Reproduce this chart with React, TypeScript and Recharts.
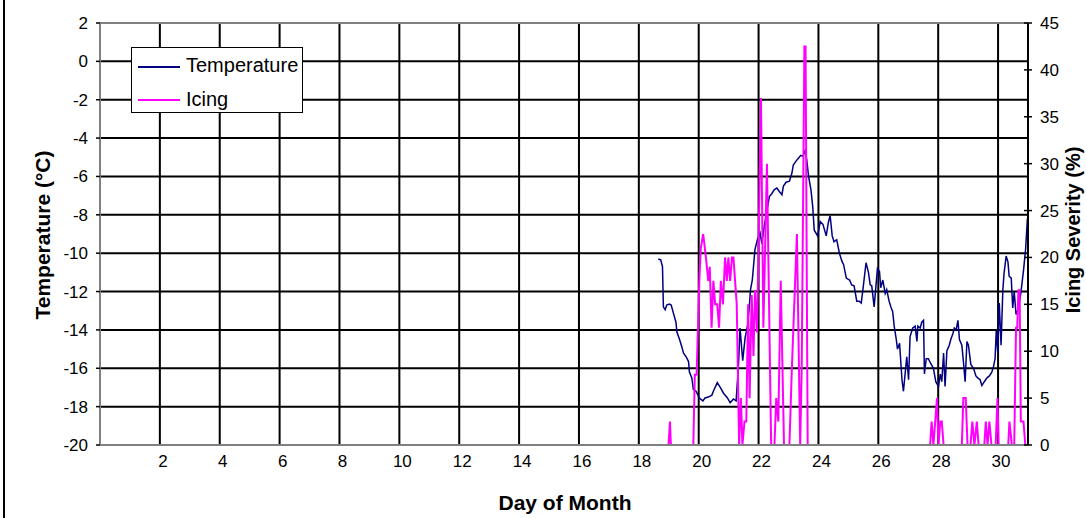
import { LineChart, Line, XAxis, YAxis, CartesianGrid, Legend, ReferenceLine, Label } from 'recharts';

const FONT = '"Liberation Sans", Arial, sans-serif';

// day of month, temperature (°C)
const tempDays = [
  18.65, 18.73, 18.79, 18.82, 18.88, 18.93, 19.02, 19.08, 19.15, 19.24, 19.27, 19.36, 19.44, 19.49, 19.58, 19.66,
  19.69, 19.77, 19.82, 19.91, 20.02, 20.14, 20.21, 20.32, 20.44, 20.49, 20.62, 20.72, 20.83, 20.96, 21.05, 21.16,
  21.25, 21.33, 21.38, 21.47, 21.55, 21.63, 21.69, 21.73, 21.79, 21.88, 21.96, 22.05, 22.11, 22.19, 22.28, 22.36,
  22.44, 22.52, 22.61, 22.70, 22.78, 22.83, 22.92, 23.03, 23.11, 23.16, 23.25, 23.33, 23.41, 23.48, 23.56, 23.61,
  23.67, 23.75, 23.81, 23.86, 23.97, 24.06, 24.15, 24.26, 24.33, 24.39, 24.46, 24.52, 24.61, 24.70, 24.78, 24.84,
  24.93, 25.04, 25.11, 25.19, 25.28, 25.36, 25.43, 25.50, 25.59, 25.67, 25.73, 25.78, 25.86, 25.91, 25.97, 26.04,
  26.08, 26.15, 26.23, 26.28, 26.36, 26.42, 26.48, 26.53, 26.60, 26.64, 26.71, 26.79, 26.84, 26.90, 26.95, 27.01,
  27.06, 27.15, 27.23, 27.29, 27.32, 27.40, 27.45, 27.51, 27.54, 27.60, 27.67, 27.75, 27.84, 27.92, 28.01, 28.07,
  28.12, 28.18, 28.23, 28.29, 28.37, 28.42, 28.49, 28.54, 28.60, 28.66, 28.71, 28.79, 28.84, 28.90, 28.96, 29.01,
  29.09, 29.18, 29.26, 29.32, 29.40, 29.46, 29.54, 29.63, 29.71, 29.79, 29.85, 29.90, 29.94, 29.99, 30.04, 30.10,
  30.16, 30.20, 30.27, 30.33, 30.37, 30.44, 30.49, 30.54, 30.60, 30.68, 30.76, 30.85, 30.92, 30.98,
];
const tempValues = [
  -10.3, -10.35, -10.7, -12.8, -12.95, -12.7, -12.65, -12.7, -13.1, -13.6, -14.1, -14.5, -14.9, -15.2, -15.4, -15.65,
  -16.2, -16.5, -17.1, -17.2, -17.55, -17.7, -17.55, -17.5, -17.4, -17.2, -16.75, -17.0, -17.3, -17.55, -17.8, -17.6,
  -17.7, -15.8, -13.9, -15.6, -14.4, -13.8, -12.8, -11.9, -11.4, -9.8, -9.3, -8.95, -9.5, -8.6, -7.75, -7.05,
  -6.9, -6.7, -6.6, -6.8, -6.95, -6.5, -6.3, -6.25, -5.85, -5.4, -5.2, -5.05, -4.9, -4.95, -4.65, -5.15,
  -6.0, -6.7, -7.6, -8.8, -9.1, -8.35, -8.5, -9.1, -8.4, -8.05, -9.1, -9.4, -9.3, -10.0, -10.4, -10.6,
  -11.3, -11.4, -11.65, -11.7, -12.5, -12.5, -12.6, -11.7, -10.5, -11.0, -11.65, -11.7, -12.8, -11.9, -10.8, -10.95,
  -11.8, -11.4, -12.1, -11.9, -12.5, -12.8, -13.05, -13.8, -14.5, -15.0, -14.7, -16.6, -17.2, -16.2, -15.4, -16.6,
  -14.35, -13.9, -13.8, -14.6, -13.8, -13.9, -13.6, -13.5, -16.3, -15.5, -15.5, -15.75, -16.0, -16.7, -16.95, -16.3,
  -16.7, -15.2, -16.95, -15.1, -14.8, -14.5, -14.2, -13.9, -14.0, -13.5, -14.5, -14.8, -15.6, -16.7, -14.6, -14.8,
  -15.8, -16.0, -16.4, -16.5, -16.6, -16.9, -16.7, -16.5, -16.4, -16.2, -15.9, -15.5, -14.0, -15.2, -12.6, -14.8,
  -11.9, -11.05, -10.15, -10.45, -11.2, -11.3, -12.85, -12.0, -13.2, -12.9, -12.1, -10.9, -9.8, -8.2,
];

// day of month, icing severity (%)
const icingDays = [
  18.62, 18.99, 19.04, 19.07, 19.82, 19.87, 19.93, 20.02, 20.07, 20.15, 20.24, 20.32, 20.37, 20.43, 20.49, 20.55,
  20.62, 20.68, 20.74, 20.81, 20.88, 20.94, 20.99, 21.05, 21.11, 21.16, 21.27, 21.35, 21.41, 21.46, 21.53, 21.59,
  21.65, 21.70, 21.77, 21.83, 21.88, 21.95, 22.08, 22.16, 22.28, 22.42, 22.53, 22.59, 22.66, 22.74, 22.85, 23.03,
  23.11, 23.28, 23.39, 23.44, 23.53, 23.57, 23.64, 27.73, 27.78, 27.84, 27.96, 28.01, 28.07, 28.12, 28.18, 28.79,
  28.84, 28.92, 28.98, 29.08, 29.14, 29.21, 29.29, 29.35, 29.54, 29.59, 29.65, 29.71, 29.78, 29.92, 29.98, 30.02,
  30.34, 30.38, 30.46, 30.54, 30.60, 30.64, 30.68, 30.72, 30.76, 30.85, 30.91,
];
const icingValues = [
  0, 0, 2.5, 0, 0, 7.5, 7.5, 17.5, 21, 22.5, 20, 17.5, 19, 12.5, 17.5, 15,
  15, 12.5, 17.5, 15, 20, 17.5, 20, 17.5, 20, 20, 15, 0, 5, 0, 2.5, 2.5,
  15, 5, 16, 9.5, 16.5, 12, 37, 12.5, 30, 0, 0, 5, 2.5, 17.5, 0, 0,
  8, 22.5, 0, 8, 42.5, 42.5, 0, 0, 2.5, 0, 5, 0, 2.5, 2.5, 0, 0,
  5, 5, 0, 0, 2.5, 0, 2.5, 0, 0, 2.5, 0, 2.5, 0, 0, 5, 0,
  0, 2.5, 0, 0, 12.5, 12.5, 16.5, 16.5, 2.5, 2.5, 0,
];

const dayTicks = [0, 2, 4, 6, 8, 10, 12, 14, 16, 18, 20, 22, 24, 26, 28, 30];
const tempTicks = [-20, -18, -16, -14, -12, -10, -8, -6, -4, -2, 0, 2];
const icingTicks = [0, 5, 10, 15, 20, 25, 30, 35, 40, 45];

const tempData = tempDays.map((d, i) => ({ day: d, temperature: tempValues[i] }));
const icingData = icingDays.map((d, i) => ({ day: d, icing: icingValues[i] }));

const XTick = (props: any) => {
  const { x, y, payload } = props;
  if (payload.value === 0) return <g />;
  return (
    <text x={x + 3} y={y + 22} textAnchor="middle" fontSize={17} fontFamily={FONT} fill="#000">
      {payload.value}
    </text>
  );
};

const LeftTick = (props: any) => {
  const { x, y, payload } = props;
  return (
    <g>
      <line x1={x - 4} x2={x} y1={y} y2={y} stroke="#000" strokeWidth={1.5} />
      <text x={x - 12} y={y + 6} textAnchor="end" fontSize={17} fontFamily={FONT} fill="#000">
        {payload.value}
      </text>
    </g>
  );
};

const RightTick = (props: any) => {
  const { x, y, payload } = props;
  return (
    <g>
      <line x1={x - 4} x2={x + 4} y1={y} y2={y} stroke="#000" strokeWidth={1.5} />
      <text x={x + 12} y={y + 6} textAnchor="start" fontSize={17} fontFamily={FONT} fill="#000">
        {payload.value}
      </text>
    </g>
  );
};

const LegendBox = () => (
  <div
    style={{
      position: 'relative',
      boxSizing: 'border-box',
      width: 172,
      height: 66,
      border: '1.5px solid #000',
      background: '#fff',
      fontFamily: FONT,
      fontSize: 20,
      color: '#000',
    }}
  >
    <div style={{ position: 'absolute', left: 6, top: 17.5, width: 42, height: 2, background: '#000080' }} />
    <div style={{ position: 'absolute', left: 54, top: 6, lineHeight: '22px', whiteSpace: 'nowrap' }}>Temperature</div>
    <div style={{ position: 'absolute', left: 6, top: 50.5, width: 42, height: 2, background: '#ff00ff' }} />
    <div style={{ position: 'absolute', left: 54, top: 40, lineHeight: '22px', whiteSpace: 'nowrap' }}>Icing</div>
  </div>
);

export default function App() {
  return (
    <div style={{ position: 'absolute', left: 0, top: 0, width: 1086, height: 518, background: '#fff', overflow: 'hidden' }}>
      <div style={{ position: 'absolute', left: 3, top: 0, width: 2, height: 518, background: '#000' }} />
      <LineChart width={1086} height={518} margin={{ top: 23, right: 0, left: 0, bottom: 0 }}>
        <CartesianGrid stroke="#000" strokeWidth={2} horizontal vertical />
        <XAxis
          dataKey="day"
          type="number"
          domain={[0, 31]}
          ticks={dayTicks}
          interval={0}
          height={73}
          tickSize={0}
          tickMargin={0}
          tickLine={false}
          tick={XTick}
          axisLine={{ stroke: '#808080', strokeWidth: 2 }}
          allowDataOverflow
        >
          <Label
            content={() => (
              <text x={565} y={510} textAnchor="middle" fontSize={21} fontWeight="bold" fontFamily={FONT} fill="#000">
                Day of Month
              </text>
            )}
          />
        </XAxis>
        <YAxis
          type="number"
          domain={[-20, 2]}
          ticks={tempTicks}
          interval={0}
          width={100}
          tickSize={0}
          tickMargin={0}
          tickLine={false}
          tick={LeftTick}
          axisLine={{ stroke: '#808080', strokeWidth: 2 }}
          allowDataOverflow
        >
          <Label
            content={() => (
              <text
                x={50}
                y={235}
                transform="rotate(-90 50 235)"
                textAnchor="middle"
                fontSize={21}
                fontWeight="bold"
                fontFamily={FONT}
                fill="#000"
              >
                Temperature (°C)
              </text>
            )}
          />
        </YAxis>
        <YAxis
          yAxisId="right"
          orientation="right"
          type="number"
          domain={[0, 45]}
          ticks={icingTicks}
          interval={0}
          width={58}
          tickSize={0}
          tickMargin={0}
          tickLine={false}
          tick={RightTick}
          axisLine={{ stroke: '#000', strokeWidth: 1.5 }}
          allowDataOverflow
        >
          <Label
            content={() => (
              <text
                x={1080}
                y={230}
                transform="rotate(-90 1080 230)"
                textAnchor="middle"
                fontSize={20}
                fontWeight="bold"
                fontFamily={FONT}
                fill="#000"
              >
                Icing Severity (%)
              </text>
            )}
          />
        </YAxis>
        <ReferenceLine y={2} stroke="#808080" strokeWidth={2} />
        <Line
          data={tempData}
          dataKey="temperature"
          name="Temperature"
          type="linear"
          stroke="#000080"
          strokeWidth={1.5}
          dot={false}
          activeDot={false}
          isAnimationActive={false}
        />
        <Line
          data={icingData}
          dataKey="icing"
          name="Icing"
          yAxisId="right"
          type="linear"
          stroke="#ff00ff"
          strokeWidth={2}
          dot={false}
          activeDot={false}
          isAnimationActive={false}
        />
        <Legend
          layout="vertical"
          align="center"
          verticalAlign="middle"
          content={LegendBox}
          wrapperStyle={{ left: 131, top: 47, width: 172, height: 66 }}
        />
      </LineChart>
    </div>
  );
}
